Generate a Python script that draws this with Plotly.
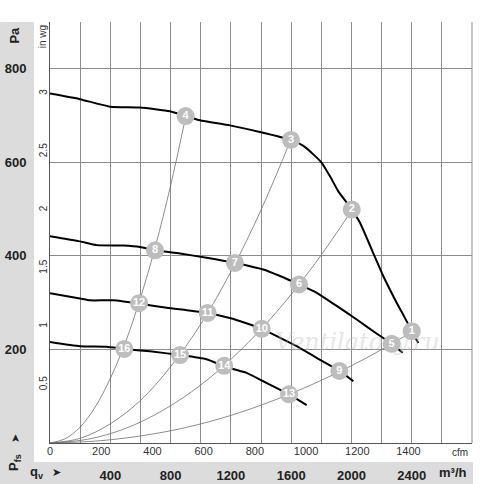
import plotly.graph_objects as go

# fan curves, q in m3/h, p in Pa
c1_q = [0, 199, 398, 597, 796, 900, 995, 1194, 1393, 1599, 1681, 1747, 1803, 1858, 1913, 1969, 2002, 2057, 2134, 2211, 2300, 2367, 2400, 2444]
c1_p = [747, 735, 719, 717, 709, 699, 690, 679, 665, 648, 635, 617, 599, 570, 538, 514, 499, 471, 414, 357, 300, 260, 239, 214]
c2_q = [0, 199, 310, 486, 597, 697, 863, 1039, 1227, 1415, 1526, 1652, 1770, 1902, 2035, 2145, 2267, 2340]
c2_p = [442, 431, 423, 422, 419, 412, 405, 396, 385, 371, 357, 339, 321, 293, 264, 239, 212, 193]
c3_q = [0, 199, 265, 420, 591, 774, 907, 1046, 1206, 1283, 1405, 1526, 1637, 1769, 1920, 2013]
c3_p = [320, 309, 305, 305, 298, 289, 284, 278, 266, 258, 244, 225, 207, 182, 154, 132]
c4_q = [0, 199, 376, 493, 664, 863, 1039, 1156, 1261, 1305, 1415, 1482, 1586, 1703]
c4_p = [216, 207, 206, 201, 196, 188, 179, 164, 154, 150, 132, 121, 104, 81]

# system curves (thin grey)
sa_q = [0, 100, 200, 300, 400, 500, 600, 700, 800, 900]
sa_p = [0, 9, 34, 77, 138, 215, 310, 421, 550, 697]
sb_q = [0, 200, 400, 600, 800, 1000, 1200, 1400, 1600]
sb_p = [0, 10, 41, 91, 163, 254, 366, 498, 650]
sc_q = [0, 250, 500, 750, 1000, 1250, 1500, 1750, 2000]
sc_p = [0, 8, 31, 70, 124, 194, 279, 380, 496]
sd_q = [0, 300, 600, 900, 1200, 1500, 1800, 2100, 2400]
sd_p = [0, 4, 15, 33, 59, 93, 134, 182, 237]

# operating points
pt_lbl = ["1", "2", "3", "4", "5", "6", "7", "8", "9", "10", "11", "12", "13", "14", "15", "16"]
pt_q = [2400, 2002, 1599, 900, 2267, 1652, 1227, 697, 1920, 1405, 1046, 591, 1586, 1156, 863, 493]
pt_p = [239, 499, 648, 699, 212, 339, 385, 412, 154, 244, 278, 299, 104, 165, 188, 201]

m3h_ticks = [400, 800, 1200, 1600, 2000, 2400]
cfm_ticks = [0, 200, 400, 600, 800, 1000, 1200, 1400]
pa_ticks = [200, 400, 600, 800]
inwg_ticks = [0.5, 1, 1.5, 2, 2.5, 3]

FONT = "Liberation Sans, Arial, sans-serif"
GRID = "#8c8c8c"
BAND = "#dcdcdc"

fig = go.Figure()

for q, p in [(sa_q, sa_p), (sb_q, sb_p), (sc_q, sc_p), (sd_q, sd_p)]:
    fig.add_trace(go.Scatter(x=q, y=p, mode="lines", line=dict(color="#707070", width=0.8, shape="spline"),
                             hoverinfo="skip", showlegend=False))

for q, p in [(c1_q, c1_p), (c2_q, c2_p), (c3_q, c3_p), (c4_q, c4_p)]:
    fig.add_trace(go.Scatter(x=q, y=p, mode="lines", line=dict(color="black", width=2, shape="spline", smoothing=0.5),
                             showlegend=False))

fig.add_trace(go.Scatter(x=pt_q, y=pt_p, mode="markers+text", text=pt_lbl,
                         marker=dict(size=18, color="#bdbdbd"),
                         textfont=dict(color="white", size=11, family=FONT, weight="bold"),
                         textposition="middle center", showlegend=False))

# invisible trace so the secondary axes get drawn
fig.add_trace(go.Scatter(x=[0], y=[0], xaxis="x2", yaxis="y2", mode="markers",
                         marker=dict(opacity=0), hoverinfo="skip", showlegend=False))


def note(text, x, y, size, angle=0, color="#222", family=FONT):
    return dict(text=text, xref="paper", yref="paper", x=x, y=y, xanchor="center", yanchor="middle",
                textangle=angle, showarrow=False, font=dict(size=size, color=color, family=family))


fig.update_layout(
    width=500, height=484,
    margin=dict(l=50, r=28, t=22, b=41),
    paper_bgcolor="white", plot_bgcolor="white",
    font=dict(family=FONT, color="#222"),
    xaxis=dict(range=[0, 2800], tickmode="array", tickvals=m3h_ticks, ticktext=[str(v) for v in m3h_ticks],
               tickfont=dict(size=13, weight="bold", color="#222"), ticks="", ticklabelstandoff=20,
               showgrid=True, gridcolor=GRID, gridwidth=1,
               minor=dict(dtick=200, tick0=0, showgrid=True, gridcolor=GRID, gridwidth=1),
               showline=True, linecolor="#555", zeroline=False, automargin=False),
    xaxis2=dict(range=[0, 2800 / 1.69901], overlaying="x", side="bottom", anchor="y",
                tickmode="array", tickvals=cfm_ticks, tickfont=dict(size=11, color="#333"),
                ticks="", showgrid=False, zeroline=False, automargin=False),
    yaxis=dict(range=[0, 900], tickmode="array", tickvals=pa_ticks, ticktext=[str(v) for v in pa_ticks],
               tickfont=dict(size=13, weight="bold", color="#222"), ticks="", ticklabelstandoff=20,
               showgrid=True, gridcolor=GRID, gridwidth=1,
               showline=True, linecolor="#555", zeroline=False, automargin=False),
    yaxis2=dict(range=[0, 900 / 249.09], overlaying="y", side="left", anchor="x",
                tickmode="array", tickvals=inwg_ticks, ticktext=[str(v) for v in inwg_ticks],
                tickangle=-90, tickfont=dict(size=10, color="#333"), ticks="",
                showgrid=False, zeroline=False, automargin=False),
    shapes=[
        dict(type="rect", xref="paper", yref="paper", x0=-0.1185, x1=-0.0379, y0=-0.0974, y1=1.0,
             fillcolor=BAND, line=dict(width=0), layer="below"),
        dict(type="rect", xref="paper", yref="paper", x0=-0.1185, x1=1.0024, y0=-0.0974, y1=-0.0451,
             fillcolor=BAND, line=dict(width=0), layer="below"),
        dict(type="line", xref="paper", yref="paper", x0=1, x1=1, y0=0, y1=1,
             line=dict(color=GRID, width=1)),
    ],
    annotations=[
        note("<b>Pa</b>", -0.083, 0.97, 13, -90),
        note("in wg", -0.019, 0.966, 10, -90, "#333"),
        note("<b>P<sub>fs</sub></b>", -0.083, -0.045, 13, -90),
        note("➤", -0.083, 0.012, 11, -90),
        note("<b>q<sub>v</sub></b>", -0.03, -0.069, 13),
        note("➤", 0.015, -0.069, 11),
        note("<b>m³/h</b>", 0.956, -0.069, 13),
        note("cfm", 0.972, -0.022, 10, 0, "#333"),
        note("<i>Ventilatory.ru</i>", 0.7275, 0.24, 24, 0, "rgba(190,190,190,0.4)", "DejaVu Serif"),
    ],
)

# drop the default body margin so the figure sits at the page corner
fig.write_html("out.html", config={"displayModeBar": False},
               post_script="document.body.style.margin='0';")
